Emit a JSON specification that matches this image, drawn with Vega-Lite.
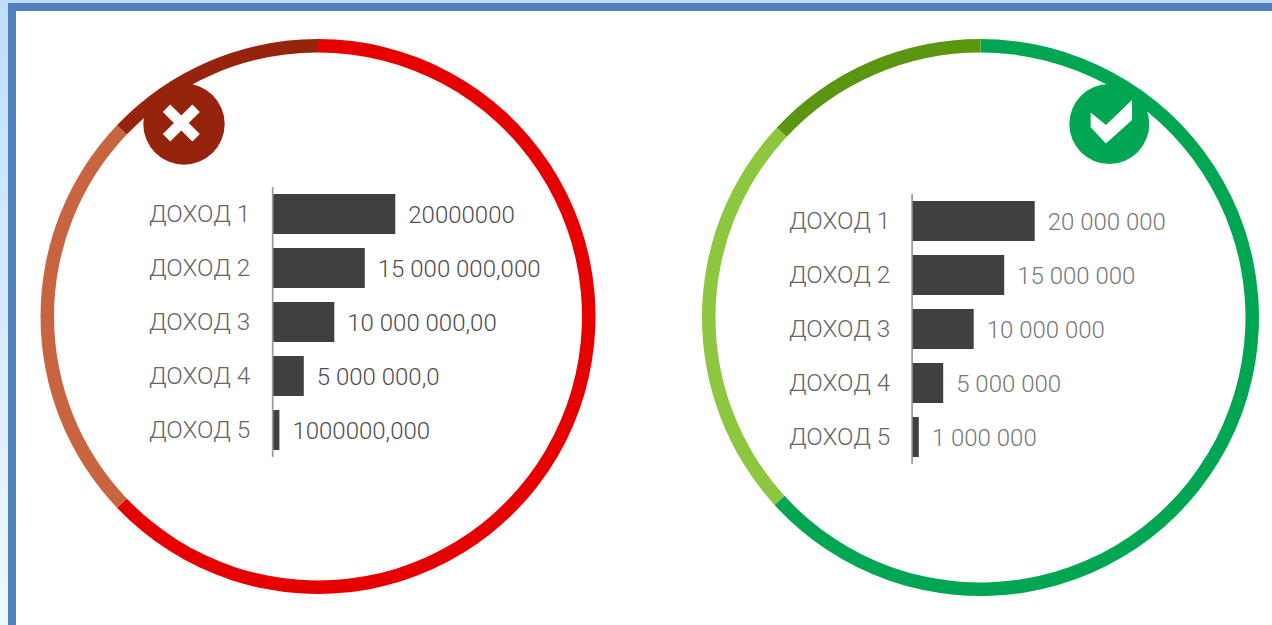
{
"$schema":"https://vega.github.io/schema/vega-lite/v6.json",
"width":1272,"height":625,"padding":0,
"autosize":"none",
"background":"#ffffff",
"config":{"view":{"stroke":null},"scale":{"continuousPadding":0},"text":{"font":"Roboto","fontWeight":300,"fontSize":24}},
"datasets":{
"frame":[{"part":"frame"}],
"left":[
{"row":1,"label":"ДОХОД 1","value":20000000,"text":"20000000"},
{"row":2,"label":"ДОХОД 2","value":15000000,"text":"15 000 000,000"},
{"row":3,"label":"ДОХОД 3","value":10000000,"text":"10 000 000,00"},
{"row":4,"label":"ДОХОД 4","value":5000000,"text":"5 000 000,0"},
{"row":5,"label":"ДОХОД 5","value":1000000,"text":"1000000,000"}],
"right":[
{"row":1,"label":"ДОХОД 1","value":20000000,"text":"20 000 000"},
{"row":2,"label":"ДОХОД 2","value":15000000,"text":"15 000 000"},
{"row":3,"label":"ДОХОД 3","value":10000000,"text":"10 000 000"},
{"row":4,"label":"ДОХОД 4","value":5000000,"text":"5 000 000"},
{"row":5,"label":"ДОХОД 5","value":1000000,"text":"1 000 000"}],
"leftRing":[{"seg":"a","share":62.9},{"seg":"b","share":24.2},{"seg":"c","share":12.9}],
"rightRing":[{"seg":"a","share":63.25},{"seg":"b","share":23.7},{"seg":"c","share":13.05}]
},
"resolve":{"scale":{"x":"independent","y":"independent","theta":"independent","color":"independent"}},
"layer":[
{"data":{"name":"frame"},"layer":[
{"mark":{"type":"rect","color":{"gradient":"linear","x1":0,"y1":0,"x2":0,"y2":1,"stops":[{"offset":0,"color":"#bfdefa"},{"offset":1,"color":"#f0f8ff"}]}},
"encoding":{"x":{"datum":0,"type":"quantitative","axis":null,"scale":{"domain":[0,1272],"nice":false,"zero":false}},"x2":{"datum":8},"y":{"datum":0,"type":"quantitative","axis":null,"scale":{"domain":[625,0],"nice":false,"zero":false}},"y2":{"datum":625}}},
{"mark":{"type":"rect","color":"#bcdcf8"},
"encoding":{"x":{"datum":0,"type":"quantitative","axis":null,"scale":{"domain":[0,1272],"nice":false,"zero":false}},"x2":{"datum":1272},"y":{"datum":0,"type":"quantitative","axis":null,"scale":{"domain":[625,0],"nice":false,"zero":false}},"y2":{"datum":3}}},
{"mark":{"type":"rect","color":"#4f81bd"},
"encoding":{"x":{"datum":8,"type":"quantitative","axis":null,"scale":{"domain":[0,1272],"nice":false,"zero":false}},"x2":{"datum":16},"y":{"datum":3,"type":"quantitative","axis":null,"scale":{"domain":[625,0],"nice":false,"zero":false}},"y2":{"datum":625}}},
{"mark":{"type":"rect","color":"#4f81bd"},
"encoding":{"x":{"datum":8,"type":"quantitative","axis":null,"scale":{"domain":[0,1272],"nice":false,"zero":false}},"x2":{"datum":1272},"y":{"datum":3,"type":"quantitative","axis":null,"scale":{"domain":[625,0],"nice":false,"zero":false}},"y2":{"datum":11}}}
]},
{"layer":[
{"data":{"name":"leftRing"},"mark":{"type":"arc","innerRadius":264,"outerRadius":277.5},
"encoding":{"x":{"datum":7330000,"type":"quantitative","axis":null,"scale":{"domain":[-44803000,163720000],"nice":false,"zero":false}},
"y":{"datum":2.898,"type":"quantitative","axis":null,"scale":{"domain":[-2.963,8.611],"reverse":true,"nice":false,"zero":false}},
"theta":{"field":"share","type":"quantitative","stack":true,"scale":{"domain":[0,100]}},
"order":{"field":"seg"},
"color":{"field":"seg","type":"nominal","legend":null,"scale":{"domain":["a","b","c"],"range":["#e60000","#c8643f","#96240c"]}}}},
{"mark":{"type":"point","shape":"circle","filled":true,"opacity":1,"size":6626,"color":"#96240c"},"data":{"values":[{"icon":"x"}]},
"encoding":{"x":{"datum":-14640000,"type":"quantitative","axis":null,"scale":{"domain":[-44803000,163720000],"nice":false,"zero":false}},"y":{"datum":-0.667,"type":"quantitative","axis":null,"scale":{"domain":[-2.963,8.611],"reverse":true,"nice":false,"zero":false}}}},
{"mark":{"type":"point","shape":"M-1,-0.6L-0.6,-1L0,-0.4L0.6,-1L1,-0.6L0.4,0L1,0.6L0.6,1L0,0.4L-0.6,1L-1,0.6L-0.4,0Z","filled":true,"opacity":1,"size":1369,"color":"#ffffff"},"data":{"values":[{"icon":"x"}]},
"encoding":{"x":{"datum":-15080000,"type":"quantitative","axis":null,"scale":{"domain":[-44803000,163720000],"nice":false,"zero":false}},"y":{"datum":-0.685,"type":"quantitative","axis":null,"scale":{"domain":[-2.963,8.611],"reverse":true,"nice":false,"zero":false}}}},
{"data":{"values":[{"axis":"y"}]},"mark":{"type":"rule","color":"#999999","strokeWidth":1.7},
"encoding":{"x":{"datum":-100000,"type":"quantitative","axis":null,"scale":{"domain":[-44803000,163720000],"nice":false,"zero":false}},"y":{"datum":0.5,"type":"quantitative","axis":null,"scale":{"domain":[-2.963,8.611],"reverse":true,"nice":false,"zero":false}},"y2":{"datum":5.5}}},
{"data":{"name":"left"},"mark":{"type":"bar","orient":"horizontal","size":40,"color":"#404040"},
"encoding":{"x":{"field":"value","type":"quantitative","stack":null,"axis":null,"scale":{"domain":[-44803000,163720000],"nice":false,"zero":false}},"x2":{"datum":0},"y":{"field":"row","type":"quantitative","axis":null,"scale":{"domain":[-2.963,8.611],"reverse":true,"nice":false,"zero":false}}}},
{"data":{"name":"left"},"mark":{"type":"text","align":"left","baseline":"middle","dy":1,"color":"#666666","fontSize":24.3},
"encoding":{"x":{"datum":-20380000,"type":"quantitative","axis":null,"scale":{"domain":[-44803000,163720000],"nice":false,"zero":false}},"y":{"field":"row","type":"quantitative","axis":null,"scale":{"domain":[-2.963,8.611],"reverse":true,"nice":false,"zero":false}},"text":{"field":"label"}}},
{"data":{"name":"left"},"mark":{"type":"text","align":"left","baseline":"middle","dx":13,"dy":1.5,"color":"#4d4d4d"},
"encoding":{"x":{"field":"value","type":"quantitative","axis":null,"scale":{"domain":[-44803000,163720000],"nice":false,"zero":false}},"y":{"field":"row","type":"quantitative","axis":null,"scale":{"domain":[-2.963,8.611],"reverse":true,"nice":false,"zero":false}},"text":{"field":"text"}}}
]},
{"layer":[
{"data":{"name":"rightRing"},"mark":{"type":"arc","innerRadius":265,"outerRadius":278.5},
"encoding":{"x":{"datum":11110000,"type":"quantitative","axis":null,"scale":{"domain":[-149623000,58900000],"nice":false,"zero":false}},
"y":{"datum":2.787,"type":"quantitative","axis":null,"scale":{"domain":[-3.093,8.481],"reverse":true,"nice":false,"zero":false}},
"theta":{"field":"share","type":"quantitative","stack":true,"scale":{"domain":[0,100]}},
"order":{"field":"seg"},
"color":{"field":"seg","type":"nominal","legend":null,"scale":{"domain":["a","b","c"],"range":["#00a651","#8dc63f","#5a9610"]}}}},
{"mark":{"type":"point","shape":"circle","filled":true,"opacity":1,"size":6400,"color":"#00a651"},"data":{"values":[{"icon":"check"}]},
"encoding":{"x":{"datum":32230000,"type":"quantitative","axis":null,"scale":{"domain":[-149623000,58900000],"nice":false,"zero":false}},"y":{"datum":-0.796,"type":"quantitative","axis":null,"scale":{"domain":[-3.093,8.481],"reverse":true,"nice":false,"zero":false}}}},
{"mark":{"type":"point","shape":"M-1,-0.44L-0.26,0.16L1,-1.05L1,-0.08L-0.26,1.05L-1,0.27Z","filled":true,"opacity":1,"size":1708,"color":"#ffffff"},"data":{"values":[{"icon":"check"}]},
"encoding":{"x":{"datum":32560000,"type":"quantitative","axis":null,"scale":{"domain":[-149623000,58900000],"nice":false,"zero":false}},"y":{"datum":-0.839,"type":"quantitative","axis":null,"scale":{"domain":[-3.093,8.481],"reverse":true,"nice":false,"zero":false}}}},
{"data":{"values":[{"axis":"y"}]},"mark":{"type":"rule","color":"#999999","strokeWidth":1.7},
"encoding":{"x":{"datum":-100000,"type":"quantitative","axis":null,"scale":{"domain":[-149623000,58900000],"nice":false,"zero":false}},"y":{"datum":0.5,"type":"quantitative","axis":null,"scale":{"domain":[-3.093,8.481],"reverse":true,"nice":false,"zero":false}},"y2":{"datum":5.5}}},
{"data":{"name":"right"},"mark":{"type":"bar","orient":"horizontal","size":40,"color":"#404040"},
"encoding":{"x":{"field":"value","type":"quantitative","stack":null,"axis":null,"scale":{"domain":[-149623000,58900000],"nice":false,"zero":false}},"x2":{"datum":0},"y":{"field":"row","type":"quantitative","axis":null,"scale":{"domain":[-3.093,8.481],"reverse":true,"nice":false,"zero":false}}}},
{"data":{"name":"right"},"mark":{"type":"text","align":"left","baseline":"middle","dy":1,"color":"#666666","fontSize":24.3},
"encoding":{"x":{"datum":-20280000,"type":"quantitative","axis":null,"scale":{"domain":[-149623000,58900000],"nice":false,"zero":false}},"y":{"field":"row","type":"quantitative","axis":null,"scale":{"domain":[-3.093,8.481],"reverse":true,"nice":false,"zero":false}},"text":{"field":"label"}}},
{"data":{"name":"right"},"mark":{"type":"text","align":"left","baseline":"middle","dx":13,"dy":1.5,"color":"#777777"},
"encoding":{"x":{"field":"value","type":"quantitative","axis":null,"scale":{"domain":[-149623000,58900000],"nice":false,"zero":false}},"y":{"field":"row","type":"quantitative","axis":null,"scale":{"domain":[-3.093,8.481],"reverse":true,"nice":false,"zero":false}},"text":{"field":"text"}}}
]}
]
}
